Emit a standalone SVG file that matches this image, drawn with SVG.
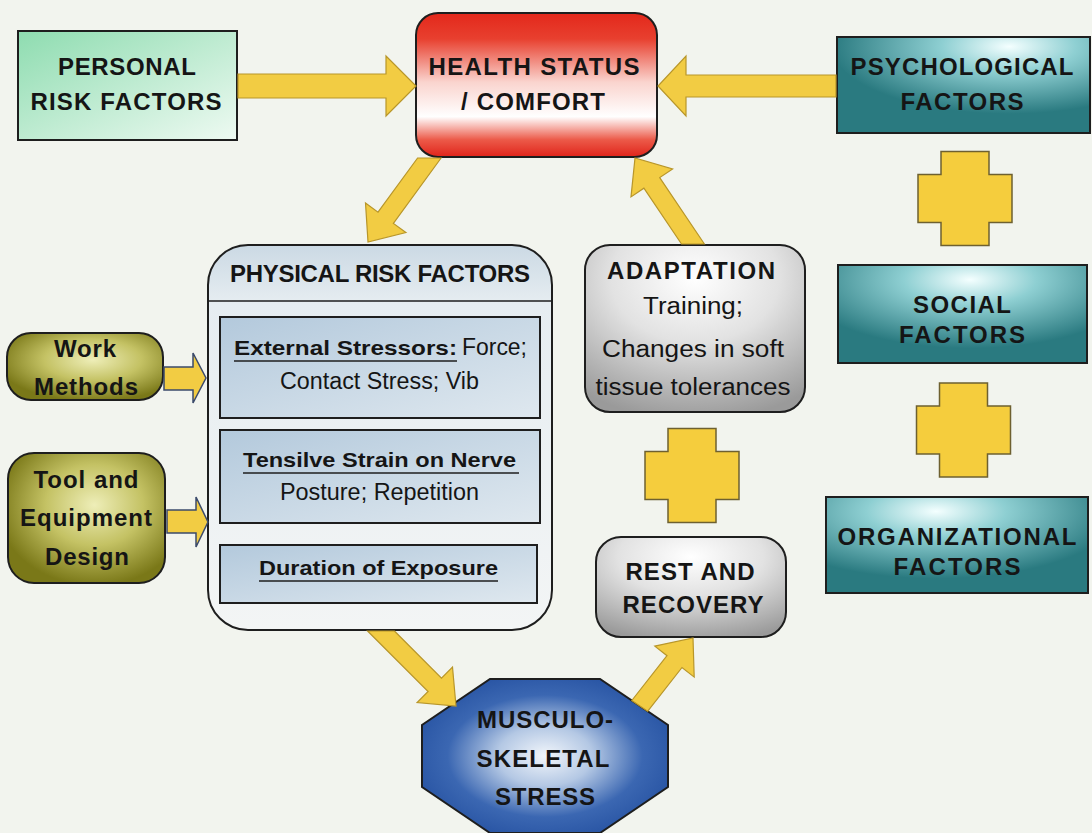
<svg xmlns="http://www.w3.org/2000/svg" width="1092" height="833" viewBox="0 0 1092 833">
  <defs>
    <linearGradient id="gPersonal" x1="0" y1="0" x2="1" y2="1">
      <stop offset="0" stop-color="#8edcb0"/>
      <stop offset="1" stop-color="#eefaf2"/>
    </linearGradient>
    <linearGradient id="gHealth" x1="0" y1="0" x2="0" y2="1">
      <stop offset="0" stop-color="#e3281b"/>
      <stop offset="0.18" stop-color="#e8402f"/>
      <stop offset="0.48" stop-color="#fad4ce"/>
      <stop offset="0.72" stop-color="#ffffff"/>
      <stop offset="0.88" stop-color="#ec5a49"/>
      <stop offset="1" stop-color="#e0241a"/>
    </linearGradient>
    <radialGradient id="gPsych" cx="0.68" cy="0.1" r="0.7">
      <stop offset="0" stop-color="#f4ffff"/>
      <stop offset="0.38" stop-color="#8ecfd2"/>
      <stop offset="1" stop-color="#2a7a80"/>
    </radialGradient>
    <radialGradient id="gSocial" cx="0.53" cy="0.15" r="0.7">
      <stop offset="0" stop-color="#f4ffff"/>
      <stop offset="0.38" stop-color="#8ecfd2"/>
      <stop offset="1" stop-color="#2a7a80"/>
    </radialGradient>
    <radialGradient id="gOrg" cx="0.42" cy="0.15" r="0.7">
      <stop offset="0" stop-color="#f4ffff"/>
      <stop offset="0.38" stop-color="#8ecfd2"/>
      <stop offset="1" stop-color="#2a7a80"/>
    </radialGradient>
    <radialGradient id="gGray" cx="0.5" cy="0.2" r="0.85">
      <stop offset="0" stop-color="#ffffff"/>
      <stop offset="0.45" stop-color="#e2e2e2"/>
      <stop offset="1" stop-color="#9a9a9a"/>
    </radialGradient>
    <radialGradient id="gOlive" cx="0.55" cy="0.4" r="0.62">
      <stop offset="0" stop-color="#eeeeb8"/>
      <stop offset="0.5" stop-color="#c4c264"/>
      <stop offset="1" stop-color="#7a7818"/>
    </radialGradient>
    <linearGradient id="gSub" x1="0" y1="0" x2="1" y2="1">
      <stop offset="0" stop-color="#b3c9dc"/>
      <stop offset="1" stop-color="#dfe8ef"/>
    </linearGradient>
    <linearGradient id="gPhys" x1="0" y1="0" x2="0" y2="1">
      <stop offset="0" stop-color="#cbd9e4"/>
      <stop offset="0.15" stop-color="#e6edf1"/>
      <stop offset="1" stop-color="#f3f5f5"/>
    </linearGradient>
    <radialGradient id="gMsk" cx="0.5" cy="0.5" r="0.55">
      <stop offset="0" stop-color="#f2f6fb"/>
      <stop offset="0.35" stop-color="#b4c8e4"/>
      <stop offset="0.72" stop-color="#3b67b2"/>
      <stop offset="1" stop-color="#2955a4"/>
    </radialGradient>
    <path id="plus" d="M-24,-47 H24 V-24 H47 V24 H24 V47 H-24 V24 H-47 V-24 H-24 Z"/>
  </defs>
  <style>
    .box { stroke: #1e1e1e; stroke-width: 2; }
    .cap { font-family: "Liberation Sans", Arial, sans-serif; font-weight: bold; font-size: 24px; fill: #151515; text-anchor: middle; }
    .sub { font-family: "Liberation Sans", Arial, sans-serif; font-weight: bold; font-size: 21px; fill: #151515; }
    .body { font-family: "Liberation Sans Narrow", "Liberation Sans", Arial, sans-serif; font-size: 23px; fill: #151515; }
    .arrow { fill: #f2cc43; stroke: #b8962a; stroke-width: 1.2; stroke-linejoin: miter; }
    .small { fill: #f2cc43; stroke: #3b4a6b; stroke-width: 1.5; }
    .op { fill: #f5cd3d; stroke: #6e6030; stroke-width: 1.5; }
    .rule { stroke: #1e1e1e; stroke-width: 1.5; }
  </style>

  <rect x="0" y="0" width="1092" height="833" fill="#f2f4ee"/>

  <!-- plus operators between factor groups -->
  <g id="operators">
    <use href="#plus" class="op" transform="translate(965,198.5)"/>
    <use href="#plus" class="op" transform="translate(963.5,430)"/>
    <use href="#plus" class="op" transform="translate(692,475.5)"/>
  </g>

  <g id="personal">
    <rect class="box" x="18" y="31" width="219" height="109" fill="url(#gPersonal)"/>
    <text class="cap" x="127" y="75" textLength="138" lengthAdjust="spacing">PERSONAL</text>
    <text class="cap" x="126" y="110" textLength="191" lengthAdjust="spacing">RISK FACTORS</text>
  </g>

  <g id="health">
    <rect class="box" x="416" y="13" width="241" height="144" rx="22" fill="url(#gHealth)"/>
    <text class="cap" x="534" y="75" textLength="211" lengthAdjust="spacing">HEALTH STATUS</text>
    <text class="cap" x="533" y="110" textLength="144" lengthAdjust="spacing">/ COMFORT</text>
  </g>

  <g id="psychological">
    <rect class="box" x="837" y="37" width="253" height="96" fill="url(#gPsych)"/>
    <text class="cap" x="962" y="75" textLength="223" lengthAdjust="spacing">PSYCHOLOGICAL</text>
    <text class="cap" x="962" y="110" textLength="123" lengthAdjust="spacing">FACTORS</text>
  </g>

  <g id="social">
    <rect class="box" x="838" y="265" width="249" height="98" fill="url(#gSocial)"/>
    <text class="cap" x="962" y="313" textLength="98" lengthAdjust="spacing">SOCIAL</text>
    <text class="cap" x="962" y="343" textLength="126" lengthAdjust="spacing">FACTORS</text>
  </g>

  <g id="organizational">
    <rect class="box" x="826" y="497" width="262" height="96" fill="url(#gOrg)"/>
    <text class="cap" x="957" y="545" textLength="239" lengthAdjust="spacing">ORGANIZATIONAL</text>
    <text class="cap" x="957" y="575" textLength="127" lengthAdjust="spacing">FACTORS</text>
  </g>

  <g id="physical">
    <rect class="box" x="208" y="245" width="344" height="385" rx="40" fill="url(#gPhys)"/>
    <line class="rule" x1="208" y1="301" x2="552" y2="301"/>
    <text class="cap" x="380" y="282" font-size="23" textLength="300" lengthAdjust="spacing">PHYSICAL RISK FACTORS</text>
    <g id="external">
      <rect class="box" x="220" y="317" width="320" height="101" fill="url(#gSub)"/>
      <text class="sub" x="234" y="355" textLength="223" lengthAdjust="spacingAndGlyphs">External Stressors:</text>
      <line class="rule" x1="234" y1="361" x2="457" y2="361"/>
      <text class="body" x="462" y="355" textLength="65" lengthAdjust="spacingAndGlyphs">Force;</text>
      <text class="body" x="280" y="389" textLength="199" lengthAdjust="spacingAndGlyphs">Contact Stress; Vib</text>
    </g>
    <g id="tensile">
      <rect class="box" x="220" y="430" width="320" height="93" fill="url(#gSub)"/>
      <text class="sub" x="243" y="467" textLength="273" lengthAdjust="spacingAndGlyphs">Tensilve Strain on Nerve</text>
      <line class="rule" x1="243" y1="473" x2="519" y2="473"/>
      <text class="body" x="280" y="500" textLength="199" lengthAdjust="spacingAndGlyphs">Posture; Repetition</text>
    </g>
    <g id="duration">
      <rect class="box" x="220" y="545" width="317" height="58" fill="url(#gSub)"/>
      <text class="sub" x="259" y="575" textLength="239" lengthAdjust="spacingAndGlyphs">Duration of Exposure</text>
      <line class="rule" x1="259" y1="581" x2="498" y2="581"/>
    </g>
  </g>

  <g id="work-methods">
    <rect class="box" x="7" y="333" width="156" height="67" rx="24" fill="url(#gOlive)"/>
    <text class="cap" x="85" y="357" font-size="22" textLength="62" lengthAdjust="spacing">Work</text>
    <text class="cap" x="86" y="395" font-size="22" textLength="104" lengthAdjust="spacing">Methods</text>
  </g>

  <g id="tool-design">
    <rect class="box" x="8" y="453" width="157" height="130" rx="26" fill="url(#gOlive)"/>
    <text class="cap" x="86" y="488" font-size="22" textLength="105" lengthAdjust="spacing">Tool and</text>
    <text class="cap" x="86" y="526" font-size="22" textLength="132" lengthAdjust="spacing">Equipment</text>
    <text class="cap" x="87" y="565" font-size="22" textLength="84" lengthAdjust="spacing">Design</text>
  </g>

  <g id="adaptation">
    <rect class="box" x="585" y="245" width="220" height="167" rx="25" fill="url(#gGray)"/>
    <text class="cap" x="691" y="279" font-size="23" textLength="168" lengthAdjust="spacing">ADAPTATION</text>
    <text class="body" x="693" y="314" font-size="24" text-anchor="middle" textLength="100" lengthAdjust="spacingAndGlyphs">Training;</text>
    <text class="body" x="693" y="357" font-size="24" text-anchor="middle" textLength="182" lengthAdjust="spacingAndGlyphs">Changes in soft</text>
    <text class="body" x="693" y="395" font-size="24" text-anchor="middle" textLength="195" lengthAdjust="spacingAndGlyphs">tissue tolerances</text>
  </g>

  <g id="rest-recovery">
    <rect class="box" x="596" y="537" width="190" height="100" rx="25" fill="url(#gGray)"/>
    <text class="cap" x="690" y="580" font-size="23" textLength="129" lengthAdjust="spacing">REST AND</text>
    <text class="cap" x="693" y="613" font-size="23" textLength="141" lengthAdjust="spacing">RECOVERY</text>
  </g>

  <g id="musculoskeletal">
    <polygon class="box" points="490,679 600,679 668,725 668,787 600,833 490,833 422,787 422,725" fill="url(#gMsk)"/>
    <text class="cap" x="545" y="728" font-size="23" textLength="136" lengthAdjust="spacing">MUSCULO-</text>
    <text class="cap" x="543" y="767" font-size="23" textLength="133" lengthAdjust="spacing">SKELETAL</text>
    <text class="cap" x="545" y="805" font-size="23" textLength="100" lengthAdjust="spacing">STRESS</text>
  </g>

  <!-- block arrows between nodes -->
  <g id="connectors">
    <polygon class="arrow" points="238,74 386,74 386,56 416,86 386,116 386,98 238,98"/>
    <polygon class="arrow" points="836,75 686,75 686,56 658,86 686,116 686,97 836,97"/>
    <polygon class="arrow" points="441.1,158 393.4,223.4 405.9,232.6 368,242 365.5,203.1 378,212.2 417.6,158"/>
    <polygon class="arrow" points="704.4,244 659.7,177.6 672.6,168.9 635,158 631,196.9 643.9,188.2 681.5,244"/>
    <polygon class="arrow" points="394.4,631 441.5,678.1 452.5,667.1 456,706 417.1,702.5 428.1,691.5 367.6,631"/>
    <polygon class="arrow" points="647.6,711.3 682,667.5 694.2,677.1 693,638 654.8,646.1 667,655.7 631.8,700.5"/>
    <polygon class="small" points="164,367 193,367 193,353 206,378 193,403 193,390 164,390"/>
    <polygon class="small" points="167,510 196,510 196,497 208,522 196,547 196,533 167,533"/>
  </g>
</svg>
